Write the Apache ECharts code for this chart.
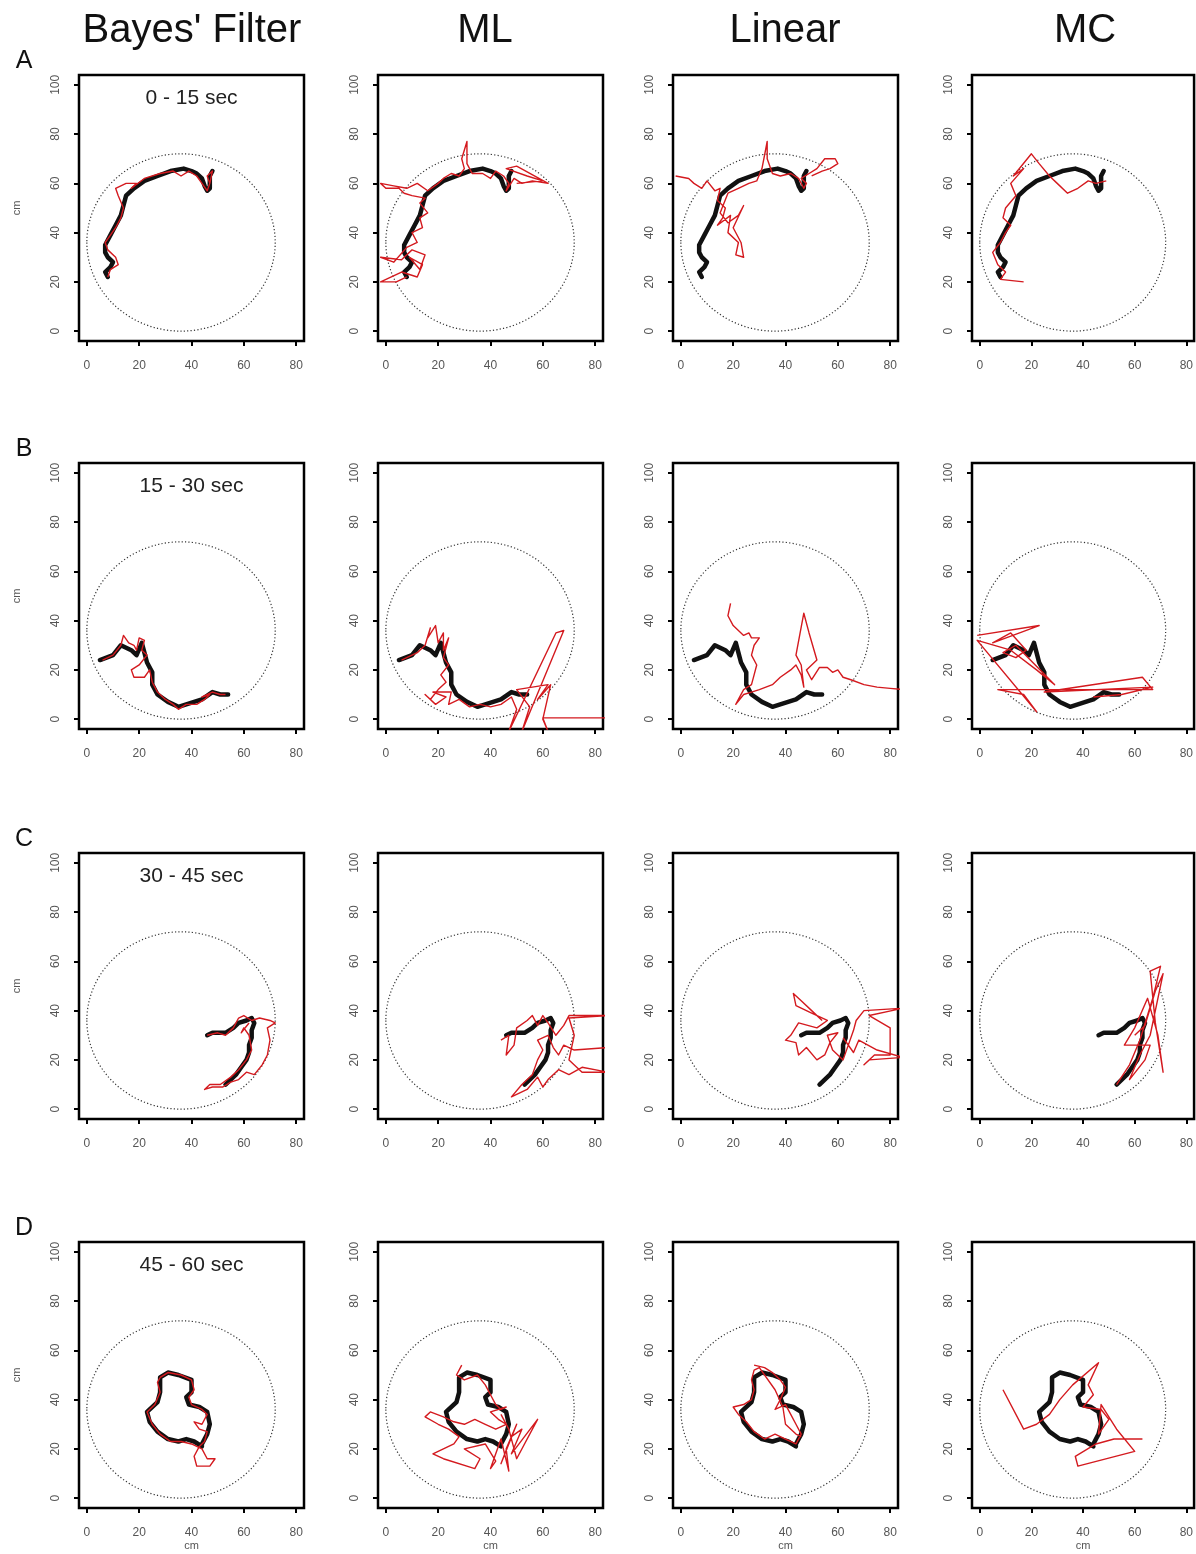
<!DOCTYPE html>
<html>
<head>
    <meta charset="utf-8">
    <title>Bayes' Filter / ML / Linear / MC</title>
    <style>
        html, body { margin: 0; padding: 0; background: #fff; }
        #main { width: 1196px; height: 1554px; }
    </style>
</head>
<body>
<div id="main"></div>
<script src="https://cdn.jsdelivr.net/npm/echarts@6/dist/echarts.min.js"></script>
<script type="text/javascript">
    // column / row headings
    var methods = ["Bayes' Filter", 'ML', 'Linear', 'MC'];
    var rowLetters = ['A', 'B', 'C', 'D'];
    var periods = ['0 - 15 sec', '15 - 30 sec', '30 - 45 sec', '45 - 60 sec'];

    // tick labels
    var xTicks = [0, 20, 40, 60, 80];
    var yTicks = [0, 20, 40, 60, 80, 100];

    // arena: centre x, centre y, radius (cm)
    var arena = [36, 36, 36];

    // true trajectory (black) for each period
    var trueA = [[8, 22], [7, 24], [9, 26], [10, 28], [8, 30], [7, 32], [7, 35], [9, 39], [11, 43], [13, 47], [14, 51], [15, 55], [18, 58], [22, 61], [27, 63], [32, 65], [37, 66], [40, 65], [42, 64], [44, 62], [45, 59], [46, 57], [47, 58], [47, 61], [47, 63], [48, 65]];
    var trueB = [[5, 24], [10, 26], [13, 30], [17, 28], [19, 26], [21, 31], [22, 27], [23, 23], [25, 19], [25, 14], [27, 10], [31, 7], [35, 5], [38, 6], [41, 7], [44, 8], [48, 11], [51, 10], [54, 10]];
    var trueC = [[46, 30], [48, 31], [50, 31], [53, 31], [56, 33], [58, 35], [61, 36], [63, 37], [64, 35], [63, 32], [63, 29], [62, 26], [62, 23], [61, 20], [59, 17], [57, 14], [55, 12], [53, 10]];
    var trueD = [[44, 22], [46, 26], [47, 30], [46, 35], [43, 37], [39, 38], [38, 41], [40, 43], [40, 48], [35, 50], [31, 51], [28, 49], [28, 43], [27, 39], [23, 35], [24, 31], [27, 27], [31, 24], [35, 23], [38, 24], [41, 23], [44, 21]];

    // decoded trajectories (red)
    var bayesA = [[8, 22], [9, 25], [12, 27], [11, 30], [8, 33], [7, 36], [9, 39], [11, 42], [13, 46], [14, 50], [12, 55], [11, 58], [15, 60], [19, 60], [17, 58], [22, 62], [28, 64], [33, 65], [36, 63], [39, 65], [42, 63], [44, 60], [46, 57], [47, 60], [46, 63], [48, 65], [47, 60]];
    var mlA = [[8, 22], [4, 20], [-2, 20], [6, 24], [12, 22], [14, 27], [9, 30], [13, 25], [15, 31], [10, 33], [6, 29], [-2, 30], [3, 28], [8, 34], [12, 36], [10, 40], [14, 42], [13, 46], [16, 48], [13, 52], [15, 54], [10, 55], [7, 56], [5, 58], [0, 58], [-2, 60], [3, 59], [8, 58], [12, 60], [16, 57], [20, 60], [22, 62], [25, 64], [28, 63], [30, 66], [29, 70], [31, 77], [31, 68], [33, 64], [37, 64], [40, 62], [42, 65], [45, 63], [47, 60], [46, 57], [49, 62], [52, 60], [56, 61], [62, 60], [50, 67], [46, 66], [54, 63], [60, 61], [50, 60]];
    var linA = [[-2, 63], [3, 62], [5, 60], [8, 58], [10, 61], [13, 57], [15, 58], [14, 53], [17, 50], [16, 46], [14, 43], [19, 47], [18, 40], [22, 36], [21, 31], [24, 30], [23, 36], [20, 42], [24, 51], [22, 47], [18, 44], [15, 48], [18, 56], [22, 58], [26, 60], [29, 61], [31, 66], [33, 77], [33, 70], [35, 64], [38, 63], [42, 64], [45, 62], [47, 58], [48, 60], [46, 62], [49, 64], [52, 66], [55, 70], [59, 70], [60, 68], [57, 66], [54, 65], [50, 63]];
    var mcA = [[17, 20], [8, 21], [10, 24], [7, 27], [5, 32], [8, 36], [10, 40], [12, 43], [9, 46], [10, 50], [14, 55], [12, 60], [17, 66], [13, 63], [20, 72], [23, 68], [27, 63], [30, 60], [34, 56], [38, 58], [42, 61], [45, 60], [49, 61]];

    var bayesB = [[6, 24], [10, 26], [13, 30], [14, 34], [16, 31], [18, 30], [19, 28], [20, 33], [22, 32], [21, 28], [23, 26], [20, 22], [17, 20], [18, 17], [22, 17], [24, 20], [25, 15], [27, 11], [30, 8], [33, 6], [35, 4], [38, 6], [42, 6], [45, 8], [47, 10], [44, 9], [48, 11], [51, 10], [53, 10]];
    var mlB = [[6, 24], [12, 27], [15, 30], [17, 37], [16, 33], [19, 38], [20, 31], [22, 35], [22, 28], [24, 33], [22, 25], [24, 22], [21, 18], [23, 15], [20, 12], [17, 8], [15, 10], [19, 6], [23, 9], [18, 11], [25, 11], [24, 6], [28, 8], [32, 5], [36, 6], [40, 5], [44, 6], [48, 9], [50, 4], [47, -5], [65, 35], [68, 36], [52, -5], [55, 5], [50, 12], [62, 14], [58, 8], [63, 14], [60, 0], [62, -5], [60, 0.5], [90, 0.5]];
    var linB = [[19, 47], [18, 42], [20, 38], [22, 36], [24, 34], [26, 35], [27, 33], [30, 33], [28, 30], [27, 26], [29, 22], [28, 18], [27, 14], [24, 12], [22, 8], [21, 6], [24, 10], [27, 11], [30, 12], [35, 14], [38, 17], [42, 20], [44, 22], [46, 18], [47, 13], [46, 22], [44, 26], [47, 43], [49, 35], [52, 24], [48, 20], [50, 16], [53, 21], [56, 21], [58, 19], [60, 20], [62, 17], [65, 16], [70, 14], [75, 13], [80, 12.5], [85, 12]];
    var mcB = [[-1, 34], [23, 38], [5, 31], [12, 35], [18, 28], [14, 25], [9, 27], [14, 30], [29, 14], [22, 20], [12, 28], [-1, 32], [22, 3], [17, 10], [7, 12], [67, 12], [63, 17], [25, 11], [67, 13], [55, 10], [44, 9]];

    var bayesC = [[46, 30], [50, 31], [53, 30], [56, 33], [58, 37], [60, 38], [63, 36], [66, 37], [70, 36], [72, 35], [69, 33], [70, 28], [69, 22], [67, 18], [64, 14], [61, 15], [58, 12], [55, 11], [52, 9], [48, 9], [45, 8], [47, 10], [51, 10], [55, 13], [58, 16], [61, 20], [63, 24], [62, 30], [60, 33], [59, 31], [62, 35]];
    var mlC = [[44, 28], [47, 30], [46, 22], [49, 26], [50, 33], [54, 36], [56, 38], [58, 34], [60, 38], [62, 35], [65, 30], [68, 34], [70, 38], [85, 38], [70, 37], [72, 30], [70, 20], [75, 15], [85, 15], [75, 17], [70, 14], [66, 16], [62, 12], [60, 9], [58, 13], [54, 8], [50, 6], [48, 5], [52, 10], [56, 14], [58, 20], [60, 24], [58, 28], [62, 30], [64, 25], [66, 22], [68, 26], [72, 24], [85, 25]];
    var linC = [[54, 36], [50, 40], [46, 44], [43, 47], [44, 42], [50, 39], [56, 36], [52, 33], [45, 35], [42, 30], [40, 28], [44, 27], [45, 22], [48, 25], [52, 20], [55, 22], [57, 27], [60, 31], [56, 30], [58, 24], [62, 20], [64, 26], [66, 32], [67, 36], [70, 40], [85, 41], [72, 38], [80, 33], [80, 22], [74, 22], [70, 18], [72, 20], [85, 21], [75, 24], [68, 28], [66, 23], [62, 29]];
    var mcC = [[53, 10], [58, 18], [62, 28], [67, 45], [70, 58], [66, 56], [68, 35], [71, 15], [69, 30], [65, 45], [60, 33], [56, 26], [66, 26], [64, 20], [58, 12], [62, 22], [66, 30], [71, 55], [68, 48], [64, 34], [60, 30]];

    var bayesD = [[28, 49], [31, 51], [36, 50], [40, 48], [41, 44], [39, 41], [40, 38], [44, 36], [46, 34], [44, 30], [41, 31], [43, 28], [46, 27], [45, 23], [43, 21], [41, 17], [42, 13], [47, 13], [49, 16], [46, 16], [44, 20], [40, 22], [36, 23], [32, 23], [28, 26], [25, 30], [23, 35], [26, 38], [28, 43], [27, 47], [28, 49]];
    var mlD = [[29, 54], [27, 50], [30, 48], [35, 50], [38, 46], [40, 42], [42, 38], [44, 36], [46, 37], [40, 35], [43, 32], [46, 30], [42, 28], [38, 30], [34, 32], [30, 30], [26, 31], [22, 33], [17, 35], [15, 33], [20, 30], [24, 28], [28, 25], [26, 22], [18, 18], [22, 16], [34, 12], [36, 16], [30, 20], [38, 22], [42, 15], [40, 12], [44, 24], [47, 11], [46, 20], [50, 30], [44, 14], [48, 25], [52, 28], [48, 18], [58, 32], [50, 16], [47, 28], [44, 34]];
    var linD = [[28, 54], [32, 53], [35, 51], [38, 48], [40, 45], [38, 40], [36, 36], [40, 38], [42, 34], [44, 30], [46, 26], [44, 22], [40, 24], [36, 26], [32, 24], [28, 27], [25, 31], [22, 34], [20, 37], [24, 38], [27, 40], [28, 44], [27, 48], [28, 52], [30, 53], [36, 44], [39, 37], [40, 30], [44, 26], [46, 25]];
    var mcD = [[9, 44], [17, 28], [22, 30], [27, 34], [31, 40], [36, 46], [46, 55], [42, 46], [44, 42], [40, 37], [47, 36], [50, 32], [46, 26], [47, 38], [53, 28], [60, 19], [38, 13], [37, 17], [45, 22], [52, 24], [63, 24]];

    var truePaths = [trueA, trueB, trueC, trueD];
    var decoded = [
        [bayesA, mlA, linA, mcA],
        [bayesB, mlB, linB, mcB],
        [bayesC, mlC, linC, mcC],
        [bayesD, mlD, linD, mcD]
    ];

    // layout
    var colLeft = [79, 378, 673, 972];
    var rowTop = [75, 463, 853, 1242];
    var boxW = 225, boxH = 266;
    var FONT = '"Liberation Sans", Arial, Helvetica, sans-serif';

    var grids = [], xAxes = [], yAxes = [], series = [], graphics = [];

    // dotted arena outline, sized through the axes
    function arenaItem(params, api) {
        var c = api.coord([api.value(0), api.value(1)]);
        var r = api.value(2);
        var px = api.coord([api.value(0) + r, api.value(1)]);
        var py = api.coord([api.value(0), api.value(1) + r]);
        var rx = px[0] - c[0], ry = c[1] - py[1];
        var d = 'M ' + (c[0] - rx) + ' ' + c[1] +
            ' A ' + rx + ' ' + ry + ' 0 1 0 ' + (c[0] + rx) + ' ' + c[1] +
            ' A ' + rx + ' ' + ry + ' 0 1 0 ' + (c[0] - rx) + ' ' + c[1] + ' Z';
        return {
            type: 'path',
            shape: {pathData: d},
            style: {fill: 'none', stroke: '#333', lineWidth: 1.2, lineDash: [1.2, 2.2]}
        };
    }

    for (var i = 0; i < 4; i++) {
        for (var j = 0; j < 4; j++) {
            var k = i * 4 + j;
            grids.push({
                left: colLeft[j], top: rowTop[i], width: boxW, height: boxH,
                show: true, borderColor: '#000', borderWidth: 2.5, backgroundColor: 'transparent'
            });
            xAxes.push({
                type: 'value', gridIndex: k, min: -3, max: 83,
                name: i === 3 ? 'cm' : '', nameLocation: 'middle', nameGap: 32,
                nameTextStyle: {fontFamily: FONT, fontSize: 11, color: '#555'},
                axisLine: {show: false, onZero: false},
                axisTick: {show: true, inside: false, length: 5, customValues: xTicks, lineStyle: {color: '#000', width: 2}},
                axisLabel: {show: true, customValues: xTicks, margin: 19, fontFamily: FONT, fontSize: 12, color: '#555'},
                splitLine: {show: false}
            });
            yAxes.push({
                type: 'value', gridIndex: k, min: -4, max: 104,
                name: j === 0 ? 'cm' : '', nameLocation: 'middle', nameGap: 57, nameRotate: 90,
                nameTextStyle: {fontFamily: FONT, fontSize: 11, color: '#555'},
                axisLine: {show: false, onZero: false},
                axisTick: {show: true, inside: false, length: 5, customValues: yTicks, lineStyle: {color: '#000', width: 2}},
                axisLabel: {show: true, customValues: yTicks, rotate: 90, margin: 17, fontFamily: FONT, fontSize: 12, color: '#555'},
                splitLine: {show: false}
            });
            series.push({
                type: 'custom', xAxisIndex: k, yAxisIndex: k, silent: true,
                renderItem: arenaItem, encode: {x: 0, y: 1},
                data: [arena]
            });
            series.push({
                type: 'line', xAxisIndex: k, yAxisIndex: k, silent: true,
                data: truePaths[i], symbol: 'none', clip: true,
                lineStyle: {color: '#111', width: 4.5, join: 'round', cap: 'round'}
            });
            series.push({
                type: 'line', xAxisIndex: k, yAxisIndex: k, silent: true,
                data: decoded[i][j], symbol: 'none', clip: true,
                lineStyle: {color: '#d41a1f', width: 1.4, join: 'round'}
            });
        }
        // row letter and period label
        graphics.push({
            type: 'text', x: 24, y: rowTop[i] - 14,
            style: {text: rowLetters[i], font: '25px ' + FONT, fill: '#111', align: 'center', verticalAlign: 'middle'}
        });
        graphics.push({
            type: 'text', x: colLeft[0] + boxW / 2, y: rowTop[i] + 23,
            style: {text: periods[i], font: '21px ' + FONT, fill: '#222', align: 'center', verticalAlign: 'middle'}
        });
    }
    var headX = [192, 485, 785, 1085];
    for (var m = 0; m < 4; m++) {
        graphics.push({
            type: 'text', x: headX[m], y: 31,
            style: {text: methods[m], font: '40px ' + FONT, fill: '#111', align: 'center', verticalAlign: 'middle'}
        });
    }

    var chart = echarts.init(document.getElementById('main'), null, {renderer: 'canvas'});
    chart.setOption({
        animation: false,
        backgroundColor: '#fff',
        grid: grids,
        xAxis: xAxes,
        yAxis: yAxes,
        series: series,
        graphic: graphics
    });
</script>
</body>
</html>
